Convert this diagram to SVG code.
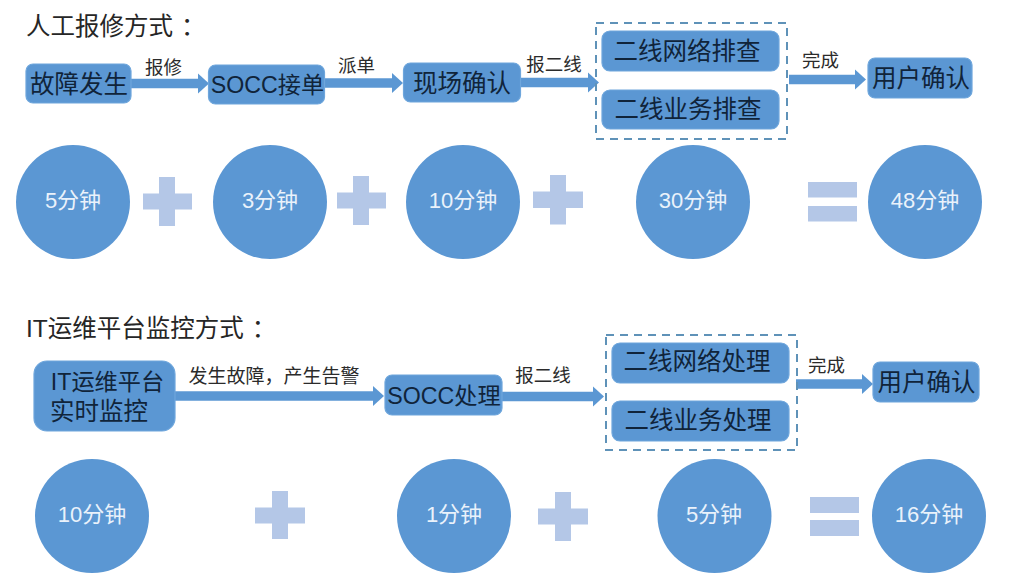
<svg xmlns="http://www.w3.org/2000/svg" width="1016" height="585" viewBox="0 0 1016 585">
<style>
text{font-family:"Liberation Sans","Noto Sans CJK SC",sans-serif}
.title{font-size:24.500px;fill:#262626}
.nt{font-size:24.500px;fill:#10243a;text-anchor:middle}
.ns{font-size:23.200px;fill:#10243a;text-anchor:middle}
.lb{font-size:18.500px;fill:#2b2b2b;text-anchor:middle}
.ct{font-size:22px;fill:#eaf2fb;text-anchor:middle}
.box{fill:#5b97d3;stroke:#6ea6dc;stroke-width:1.2}
.circ{fill:#5b97d3}
.sym{fill:#b4c7e7}
.dash{fill:none;stroke:#5f92b8;stroke-width:2;stroke-dasharray:8 6}
.conn{stroke:#5b97d3;stroke-width:9.500;fill:none}
</style>
<defs>
<marker id="head" markerUnits="userSpaceOnUse" markerWidth="12" markerHeight="26" refX="0" refY="13" orient="auto" viewBox="0 0 12 26"><path d="M0 3L11 13L0 23Z" fill="#5b97d3"/></marker>
</defs>
<rect width="1016" height="585" fill="#fff"/>
<text class="title" x="26" y="35">人工报修方式<tspan dx="8">：</tspan></text>
<text class="title" x="26" y="337">IT运维平台监控方式<tspan dx="8">：</tspan></text>
<g id="connectors">
<line class="conn" x1="131" y1="83.500" x2="198" y2="83.500" marker-end="url(#head)"/>
<line class="conn" x1="325" y1="83" x2="392" y2="83" marker-end="url(#head)"/>
<line class="conn" x1="521" y1="82.500" x2="588" y2="82.500" marker-end="url(#head)"/>
<line class="conn" x1="789" y1="79.500" x2="855" y2="79.500" marker-end="url(#head)"/>
<line class="conn" x1="175" y1="396" x2="373" y2="396" marker-end="url(#head)"/>
<line class="conn" x1="502" y1="396.500" x2="593" y2="396.500" marker-end="url(#head)"/>
<line class="conn" x1="796" y1="384" x2="862" y2="384" marker-end="url(#head)"/>
</g>
<g id="connector-labels">
<text class="lb" x="163.500" y="74">报修</text>
<text class="lb" x="356.500" y="72">派单</text>
<text class="lb" x="554" y="71">报二线</text>
<text class="lb" x="820.500" y="67">完成</text>
<text class="lb" x="274" y="383" style="font-size:19px">发生故障，产生告警</text>
<text class="lb" x="543" y="382">报二线</text>
<text class="lb" x="826.500" y="372">完成</text>
</g>
<g id="group-manual-l2"><rect class="dash" x="596" y="23" width="191" height="116"/></g>
<g id="group-monitor-l2"><rect class="dash" x="606" y="335" width="191" height="115"/></g>
<g id="n-fault"><rect class="box" x="26" y="64" width="105" height="39" rx="7"/><text class="nt" x="79" y="93">故障发生</text></g>
<g id="n-socc"><rect class="box" x="208.500" y="65" width="116" height="39" rx="7"/><text class="ns" x="267.500" y="93">SOCC接单</text></g>
<g id="n-site"><rect class="box" x="403.500" y="63" width="117" height="39" rx="7"/><text class="nt" x="462" y="92">现场确认</text></g>
<g id="n-net"><rect class="box" x="602" y="31" width="177" height="40" rx="8"/><text class="nt" x="687" y="60">二线网络排查</text></g>
<g id="n-biz"><rect class="box" x="602" y="90" width="177" height="39" rx="8"/><text class="nt" x="688" y="118">二线业务排查</text></g>
<g id="n-user"><rect class="box" x="868" y="58" width="104" height="40" rx="7"/><text class="nt" x="921" y="87">用户确认</text></g>
<g id="c-5"><circle class="circ" cx="73" cy="202" r="57"/><text class="ct" x="73" y="208">5分钟</text></g>
<g id="p-1"><path class="sym" d="M159 177h16v16.500h17v16h-17v16.500h-16v-16.500h-16v-16h16z"/></g>
<g id="c-3"><circle class="circ" cx="270" cy="202" r="57"/><text class="ct" x="270" y="208">3分钟</text></g>
<g id="p-2"><path class="sym" d="M353 176h16v16.500h17v16h-17v16.500h-16v-16.500h-16v-16h16z"/></g>
<g id="c-10"><circle class="circ" cx="463" cy="202" r="57"/><text class="ct" x="463" y="208">10分钟</text></g>
<g id="p-3"><path class="sym" d="M550 175h16v16.500h17v16.500h-17v16.500h-16v-16.500h-17v-16.500h17z"/></g>
<g id="c-30"><circle class="circ" cx="693" cy="202" r="57"/><text class="ct" x="693" y="208">30分钟</text></g>
<g id="e-1"><rect class="sym" x="808" y="182" width="49" height="15.500"/><rect class="sym" x="808" y="206" width="49" height="15.500"/></g>
<g id="c-48"><circle class="circ" cx="925" cy="202" r="57"/><text class="ct" x="925" y="208">48分钟</text></g>
<g id="n-it"><rect class="box" x="34" y="361" width="141" height="70" rx="13"/><text class="ns" x="107.500" y="390">IT运维平台</text><text class="nt" x="99" y="420">实时监控</text></g>
<g id="n-socc2"><rect class="box" x="385" y="375" width="117" height="40" rx="7"/><text class="ns" x="444" y="404">SOCC处理</text></g>
<g id="n-net2"><rect class="box" x="612" y="343" width="177" height="40" rx="8"/><text class="nt" x="697" y="370">二线网络处理</text></g>
<g id="n-biz2"><rect class="box" x="612" y="401" width="177" height="40" rx="8"/><text class="nt" x="698" y="429">二线业务处理</text></g>
<g id="n-user2"><rect class="box" x="873" y="362" width="106" height="40" rx="7"/><text class="nt" x="926.500" y="391">用户确认</text></g>
<g id="c-10b"><circle class="circ" cx="92" cy="516" r="57"/><text class="ct" x="92" y="522">10分钟</text></g>
<g id="p-4"><path class="sym" d="M272 491h16v16.500h17v16h-17v15.500h-16v-15.500h-17v-16h17z"/></g>
<g id="c-1"><circle class="circ" cx="454" cy="516" r="57"/><text class="ct" x="454" y="522">1分钟</text></g>
<g id="p-5"><path class="sym" d="M555 492h16v16.500h17v16h-17v16.500h-16v-16.500h-17v-16h17z"/></g>
<g id="c-5b"><circle class="circ" cx="714.500" cy="516" r="57"/><text class="ct" x="714" y="522">5分钟</text></g>
<g id="e-2"><rect class="sym" x="810" y="497" width="49" height="16"/><rect class="sym" x="810" y="520" width="49" height="16"/></g>
<g id="c-16"><circle class="circ" cx="929" cy="516" r="57"/><text class="ct" x="929" y="522">16分钟</text></g>
</svg>
